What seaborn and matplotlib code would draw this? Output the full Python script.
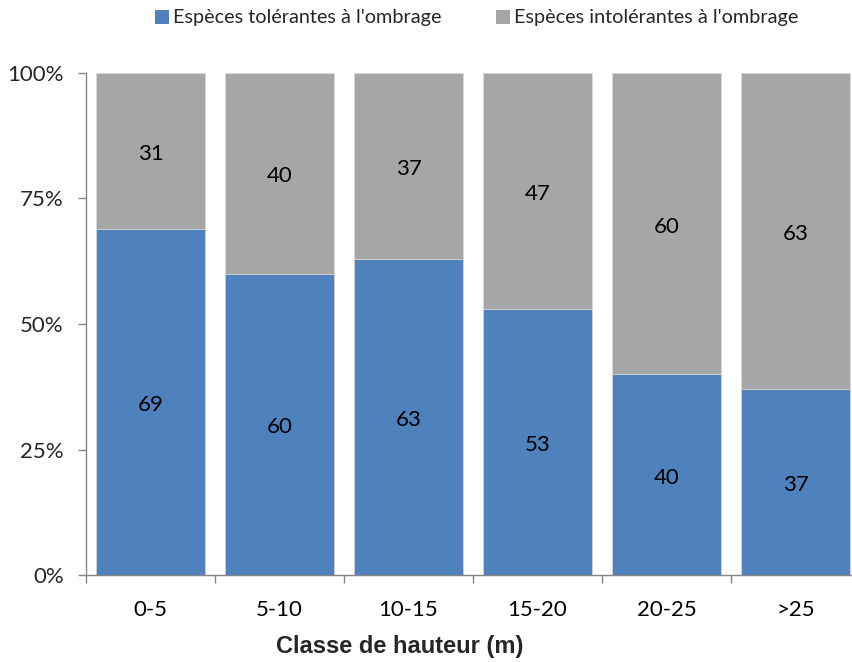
import matplotlib
matplotlib.use("Agg")
import matplotlib.pyplot as plt
import seaborn as sns
import numpy as np
import pandas as pd
from matplotlib.patches import Patch

# Height classes and species shares (%)
classes = ["0-5", "5-10", "10-15", "15-20", "20-25", ">25"]
tolerant = [69, 60, 63, 53, 40, 37]
intolerant = [31, 40, 37, 47, 60, 63]
y_ticks = [0, 25, 50, 75, 100]
y_tick_labels = ["0%", "25%", "50%", "75%", "100%"]

blue = "#4F81BD"
gray = "#A6A6A6"
axis_gray = "#868686"

sns.set_theme(style="white")
plt.rcParams["font.family"] = ["Lato", "DejaVu Sans"]

df = pd.DataFrame({
    "classe": classes,
    "tol": tolerant,
    "intol": intolerant,
})
df["total"] = df["tol"] + df["intol"]

fig = plt.figure(figsize=(8.53, 6.62), dpi=100)
W, H = 853, 662
ax = fig.add_axes([86 / W, (H - 575) / H, 774 / W, 502 / H])

# Stacked bars: full column in gray, tolerant share drawn over it in blue
sns.barplot(data=df, x="classe", y="total", color=gray, width=0.85,
            saturation=1, edgecolor="#D9D9D9", linewidth=0.6, ax=ax)
sns.barplot(data=df, x="classe", y="tol", color=blue, width=0.85,
            saturation=1, edgecolor="#D9D9D9", linewidth=0.6, ax=ax)

# Segment value labels
for i, (t, it) in enumerate(zip(tolerant, intolerant)):
    ax.text(i, t / 2 - 0.6, f"{t}", ha="center", va="center", fontsize=16, color="black")
    ax.text(i, t + it / 2 - 0.6, f"{it}", ha="center", va="center", fontsize=16, color="black")

ax.set_xlim(-0.5, len(classes) - 0.5)
ax.set_ylim(0, 100)
ax.set_yticks(y_ticks)
ax.set_yticklabels(y_tick_labels, fontsize=16)
ax.set_xticks(range(len(classes)))
ax.set_xticklabels(classes, fontsize=16)
ax.set_xticks(np.arange(len(classes) + 1) - 0.5, minor=True)
ax.tick_params(axis="x", which="major", length=0, pad=18, colors="black")
ax.tick_params(axis="x", which="minor", length=6, width=1, color=axis_gray, bottom=True)
ax.tick_params(axis="y", which="major", length=6, width=1, color=axis_gray, left=True, pad=10)

for s in ["top", "right"]:
    ax.spines[s].set_visible(False)
for s in ["left", "bottom"]:
    ax.spines[s].set_color(axis_gray)
    ax.spines[s].set_linewidth(1)

ax.set_ylabel("")
ax.set_xlabel("Classe de hauteur (m)", fontsize=17, fontweight="bold",
              family=["Liberation Sans", "DejaVu Sans"], labelpad=11)
ax.xaxis.label.set_x((400 - 86) / 774)

handles = [Patch(facecolor=blue, edgecolor="none"), Patch(facecolor=gray, edgecolor="none")]
fig.legend(handles, ["Espèces tolérantes à l'ombrage", "Espèces intolérantes à l'ombrage"],
           loc="center", bbox_to_anchor=(477 / W, 1 - 18 / H), ncol=2, frameon=False,
           fontsize=14.3, handlelength=0.7, handleheight=0.7, handletextpad=0.2,
           columnspacing=2.75)

fig.savefig("out.png", dpi=100)
